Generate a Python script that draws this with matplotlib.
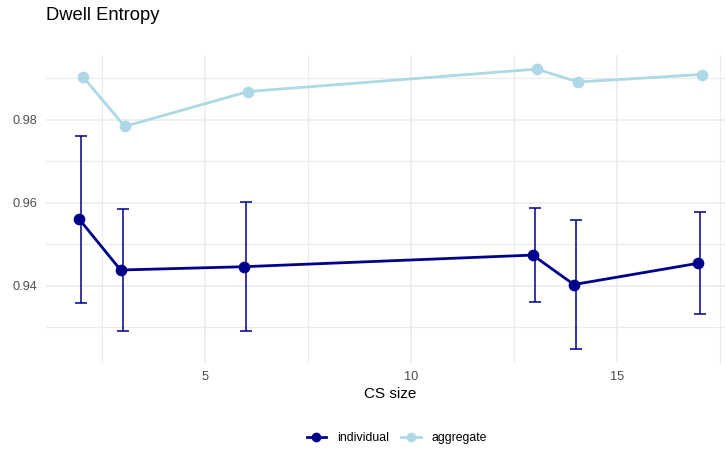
import matplotlib
matplotlib.use("Agg")
import matplotlib.pyplot as plt
from matplotlib.lines import Line2D
import numpy as np

plt.rcParams['font.family'] = ['Liberation Sans', 'DejaVu Sans']

# CS sizes and entropy values
cs_size = [2, 3, 6, 13, 14, 17]
individual = [0.9560, 0.9438, 0.9446, 0.9474, 0.9403, 0.9454]
individual_lo = [0.9358, 0.9291, 0.9291, 0.9361, 0.9248, 0.9331]
individual_hi = [0.9760, 0.9584, 0.9601, 0.9588, 0.9558, 0.9577]
aggregate = [0.9902, 0.9784, 0.9868, 0.9922, 0.9891, 0.9909]

dark = "#00008B"
light = "#ADD8E6"
grid_col = "#EBEBEB"

fig = plt.figure(figsize=(7.25, 4.5), dpi=100)
ax = fig.add_axes([46 / 725, 87 / 450, 689 / 725, 308 / 450])

x = np.array(cs_size, dtype=float)
ind = np.array(individual)
lo = ind - np.array(individual_lo)
hi = np.array(individual_hi) - ind

# small dodge so the two series don't sit on top of each other
dodge = 0.05

ax.errorbar(x, ind, yerr=[lo, hi], fmt="none", ecolor=dark, elinewidth=1.1,
            capsize=4.3, capthick=1.1, zorder=3)
ax.plot(x - dodge, ind, color=dark, lw=2.0, marker="o", ms=7.4, zorder=4)
ax.plot(x + dodge, aggregate, color=light, lw=2.0, marker="o", ms=7.4, zorder=4)

ax.set_xlim(1.14, 17.86)
ax.set_ylim(0.9214, 0.9956)
ax.set_xticks([5, 10, 15])
ax.set_xticks([2.5, 7.5, 12.5, 17.5], minor=True)
ax.set_yticks([0.94, 0.96, 0.98])
ax.set_yticks([0.93, 0.95, 0.97, 0.99], minor=True)
ax.set_yticklabels(["0.94", "0.96", "0.98"])

ax.grid(True, which="major", color=grid_col, lw=1.1)
ax.grid(True, which="minor", color=grid_col, lw=0.8)
ax.set_axisbelow(True)
for s in ax.spines.values():
    s.set_visible(False)
ax.tick_params(which="both", length=0, labelsize=9.2, labelcolor="#4D4D4D")
ax.tick_params(axis="x", pad=6)
ax.tick_params(axis="y", pad=6)

ax.set_xlabel("CS size", fontsize=11, labelpad=3)
fig.text(46 / 725, 1 - 15 / 450, "Dwell Entropy", fontsize=13.2,
         ha="left", va="center")

handles = [
    Line2D([], [], color=dark, lw=2.0, marker="o", ms=6),
    Line2D([], [], color=light, lw=2.0, marker="o", ms=6),
]
fig.legend(handles, ["individual", "aggregate"], loc="center",
           bbox_to_anchor=(397 / 725, 1 - 438 / 450), ncol=2, frameon=False,
           fontsize=8.8, handlelength=1.6, handletextpad=0.9, columnspacing=1.0)

fig.savefig("out.png", dpi=100)
